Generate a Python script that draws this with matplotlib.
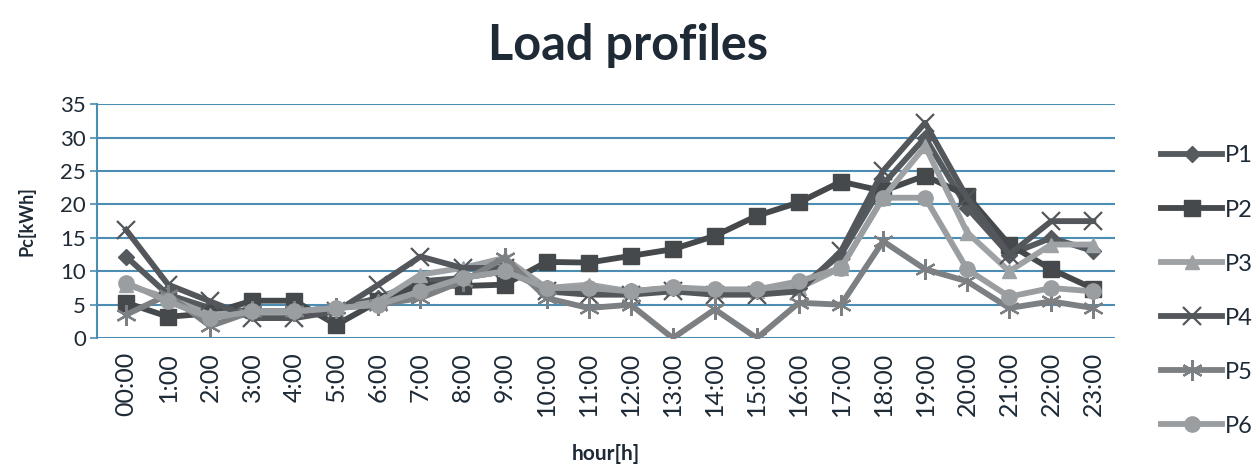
import matplotlib
matplotlib.use("Agg")
import matplotlib.pyplot as plt
import numpy as np

hours = ["00:00"] + [f"{h}:00" for h in range(1, 24)]

p1 = [12.2, 6.5, 4.5, 4, 4, 4.5, 6, 8.5, 9, 10, 7.5, 7.5, 7, 7.5, 7, 7, 7.5, 12.5, 23, 30, 19.5, 12.5, 15, 13]
p2 = [5.3, 3.2, 3.7, 5.6, 5.6, 2, 5.5, 8, 7.8, 8, 11.4, 11.3, 12.3, 13.3, 15.3, 18.3, 20.3, 23.4, 22, 24.3, 21.3, 14, 10.3, 7.4]
p3 = [8, 6, 3.5, 4, 4, 4.5, 5.5, 9.5, 10.5, 12, 7.5, 8, 7, 7.5, 7, 7, 7.5, 10.5, 21, 28.7, 15.8, 10, 14, 14]
p4 = [16.2, 8, 5.5, 3, 3, 4, 8, 12.2, 10.5, 10.5, 7, 6.5, 6.5, 7, 6.5, 6.5, 7, 13, 25, 32.2, 21, 12.5, 17.5, 17.5]
p5 = [3.5, 6.5, 1.8, 4, 4, 4.5, 5, 6, 8.5, 12, 6, 4.5, 5, 0, 4.3, 0, 5.3, 5, 14.5, 10.3, 8.5, 4.5, 5.5, 4.5]
p6 = [8.3, 5.5, 3, 4, 4, 4.5, 5, 7, 9, 10, 7.5, 7.5, 7, 7.6, 7.3, 7.3, 8.5, 10.5, 21, 21, 10.3, 6.2, 7.5, 7]

series_names = ["P1", "P2", "P3", "P4", "P5", "P6"]
series_values = [p1, p2, p3, p4, p5, p6]
series_colors = ["#555a5e", "#45494c", "#9ea2a5", "#53575b", "#7c8083", "#9a9ea1"]
series_markers = ["D", "s", "^", "x", (6, 2, 0), "o"]
marker_sizes = [8, 11, 10, 13, 15, 11]

text_color = "#1e2a36"
grid_color = "#4b8db3"

plt.rcParams["font.family"] = ["Lato", "DejaVu Sans"]

fig = plt.figure(figsize=(12.57, 4.69), dpi=100, facecolor="white")
ax = fig.add_axes([0.0772, 0.279, 0.81, 0.499])

x = np.arange(len(hours))
for name, vals, col, mk, ms in zip(series_names, series_values, series_colors, series_markers, marker_sizes):
    ax.plot(x, vals, color=col, linewidth=4.2, marker=mk, markersize=ms,
            markeredgewidth=1.6 if mk in ("x", (6, 2, 0)) else 1, label=name)

ax.set_xlim(-0.69, 23.52)
ax.set_ylim(0, 35)
ax.set_yticks(np.arange(0, 36, 5))
ax.set_xticks(x)
ax.set_xticklabels(hours, rotation=90, fontsize=18, color=text_color)
ax.tick_params(axis="y", labelsize=16, colors=text_color, length=5, color=grid_color, width=1.2, pad=3)
ax.tick_params(axis="y", labelcolor=text_color)
ax.tick_params(axis="x", length=0, pad=10)

ax.yaxis.grid(True, color=grid_color, linewidth=1.5)
ax.set_axisbelow(True)
for side in ("top", "right", "bottom"):
    ax.spines[side].set_visible(False)
ax.spines["left"].set_color(grid_color)
ax.spines["left"].set_linewidth(1.5)

ax.set_ylabel("Pc[kWh]", fontsize=13, fontweight="bold", color=text_color, labelpad=18)
ax.set_xlabel("hour[h]", fontsize=15, fontweight="bold", color=text_color, labelpad=20)

fig.suptitle("Load profiles", x=0.5, y=0.952, fontsize=35, fontweight="bold", color=text_color)

fig.legend(loc="upper left", bbox_to_anchor=(0.916, 0.71), frameon=False,
           fontsize=17, handlelength=2.6, handletextpad=0.1, labelspacing=1.4,
           labelcolor=text_color, borderaxespad=0)

fig.savefig("out.png", dpi=100, facecolor="white")
